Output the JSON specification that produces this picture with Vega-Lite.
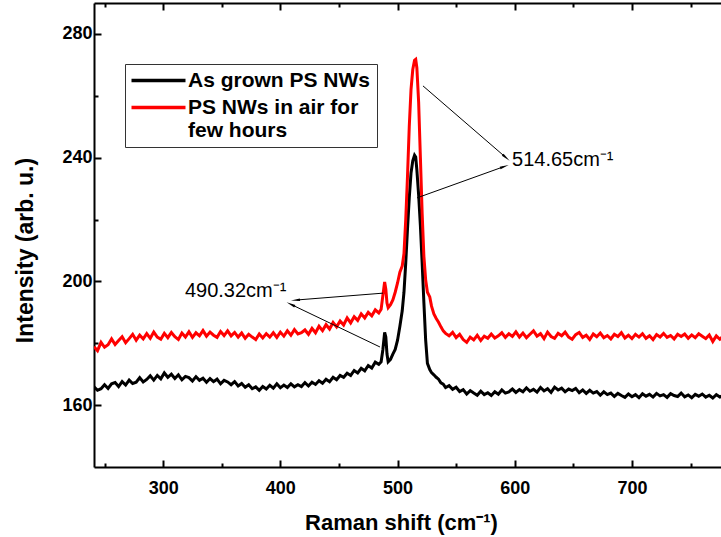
{
  "$schema": "https://vega.github.io/schema/vega-lite/v6.json",
  "width": 627,
  "height": 464,
  "autosize": {"type": "none"},
  "padding": {"left": 94, "top": 3, "right": 0, "bottom": 70},
  "background": "white",
  "config": {"view": {"stroke": null}, "font": "Liberation Sans"},
  "datasets": {
    "spectra": [
      {"x":241,"a":165.9,"b":178.9},{"x":244,"a":164.8,"b":177.6},{"x":247,"a":165.3,"b":180.3},{"x":250,"a":166.6,"b":178.7},
      {"x":253,"a":165.4,"b":179.5},{"x":256,"a":166.9,"b":181.4},{"x":259,"a":167.3,"b":179.6},{"x":262,"a":166.0,"b":180.9},
      {"x":265,"a":167.6,"b":182.1},{"x":268,"a":166.5,"b":180.2},{"x":271,"a":168.1,"b":181.5},{"x":274,"a":167.0,"b":182.9},
      {"x":277,"a":167.4,"b":181.0},{"x":280,"a":168.9,"b":182.6},{"x":283,"a":167.5,"b":181.4},{"x":286,"a":168.3,"b":183.1},
      {"x":289,"a":169.5,"b":181.6},{"x":292,"a":168.1,"b":183.6},{"x":295,"a":169.6,"b":182.0},{"x":298,"a":168.5,"b":181.3},
      {"x":301,"a":170.4,"b":183.2},{"x":304,"a":169.0,"b":181.8},{"x":307,"a":170.0,"b":183.5},{"x":310,"a":168.6,"b":182.1},
      {"x":313,"a":169.8,"b":181.2},{"x":316,"a":168.2,"b":183.3},{"x":319,"a":169.3,"b":182.0},{"x":322,"a":168.9,"b":183.7},
      {"x":325,"a":167.8,"b":181.9},{"x":328,"a":169.2,"b":183.4},{"x":331,"a":168.0,"b":182.4},{"x":334,"a":168.7,"b":184.1},
      {"x":337,"a":167.4,"b":182.3},{"x":340,"a":168.6,"b":183.6},{"x":343,"a":167.6,"b":182.6},{"x":346,"a":168.4,"b":181.9},
      {"x":349,"a":166.9,"b":183.8},{"x":352,"a":168.0,"b":182.5},{"x":355,"a":167.5,"b":184.0},{"x":358,"a":166.6,"b":182.4},
      {"x":361,"a":167.6,"b":183.5},{"x":364,"a":166.2,"b":182.0},{"x":367,"a":167.0,"b":183.3},{"x":370,"a":165.8,"b":181.6},
      {"x":373,"a":166.6,"b":182.9},{"x":376,"a":165.3,"b":182.0},{"x":379,"a":165.9,"b":181.2},{"x":382,"a":164.8,"b":183.0},
      {"x":385,"a":166.0,"b":181.7},{"x":388,"a":165.2,"b":183.1},{"x":391,"a":166.4,"b":182.0},{"x":394,"a":165.5,"b":183.4},
      {"x":397,"a":166.9,"b":181.9},{"x":400,"a":165.6,"b":183.6},{"x":403,"a":166.5,"b":182.3},{"x":406,"a":165.7,"b":184.0},
      {"x":409,"a":166.9,"b":182.6},{"x":412,"a":165.9,"b":184.4},{"x":415,"a":166.6,"b":183.0},{"x":418,"a":166.0,"b":183.4},
      {"x":421,"a":167.3,"b":184.3},{"x":424,"a":166.2,"b":182.9},{"x":427,"a":167.4,"b":184.8},{"x":430,"a":166.7,"b":183.4},
      {"x":433,"a":167.9,"b":185.5},{"x":436,"a":167.1,"b":184.1},{"x":439,"a":168.4,"b":186.0},{"x":442,"a":167.6,"b":184.6},
      {"x":445,"a":169.0,"b":186.7},{"x":448,"a":168.2,"b":185.3},{"x":451,"a":169.6,"b":187.2},{"x":454,"a":169.0,"b":185.9},
      {"x":457,"a":170.3,"b":188.2},{"x":460,"a":169.6,"b":186.6},{"x":463,"a":171.2,"b":188.6},{"x":466,"a":170.4,"b":187.4},
      {"x":469,"a":171.9,"b":189.5},{"x":472,"a":171.1,"b":188.2},{"x":475,"a":172.8,"b":190.0},{"x":478,"a":172.0,"b":188.9},
      {"x":481,"a":173.9,"b":190.8},{"x":484,"a":173.2,"b":189.8},{"x":486,"a":174.0,"b":191.0},{"x":487.5,"a":178.0,"b":195.5},
      {"x":489,"a":183.5,"b":199.8},{"x":490,"a":182.0,"b":197.5},{"x":491,"a":176.5,"b":193.0},{"x":492,"a":174.0,"b":191.5},
      {"x":494,"a":174.8,"b":192.5},{"x":496,"a":176.5,"b":194.0},{"x":498,"a":178.0,"b":196.5},{"x":500,"a":181.0,"b":199.5},
      {"x":502,"a":185.5,"b":203.0},{"x":504,"a":190.5,"b":205.0},{"x":505.5,"a":196.5,"b":209.0},{"x":507,"a":206.0,"b":220.0},
      {"x":508.5,"a":217.0,"b":234.0},{"x":510,"a":227.0,"b":250.0},{"x":511.5,"a":235.0,"b":262.0},{"x":513,"a":239.0,"b":268.5},
      {"x":514.5,"a":240.8,"b":271.5},{"x":515.5,"a":240.2,"b":271.8},{"x":516.5,"a":236.0,"b":269.0},{"x":518,"a":228.0,"b":258.0},
      {"x":519.5,"a":218.0,"b":240.0},{"x":521,"a":206.0,"b":222.0},{"x":522.5,"a":193.0,"b":208.0},{"x":524,"a":181.0,"b":200.5},
      {"x":525.5,"a":173.5,"b":196.5},{"x":527.5,"a":171.5,"b":195.0},{"x":529,"a":170.5,"b":192.0},{"x":531,"a":169.8,"b":189.5},
      {"x":533,"a":169.0,"b":188.0},{"x":535,"a":168.4,"b":186.8},{"x":537,"a":167.2,"b":185.3},{"x":539,"a":166.8,"b":184.0},
      {"x":541,"a":165.7,"b":183.2},{"x":544,"a":166.3,"b":182.4},{"x":547,"a":165.1,"b":183.5},{"x":550,"a":165.8,"b":181.8},
      {"x":553,"a":164.4,"b":182.9},{"x":556,"a":165.0,"b":181.2},{"x":559,"a":163.6,"b":180.3},{"x":562,"a":164.7,"b":182.0},
      {"x":565,"a":163.9,"b":181.1},{"x":568,"a":163.2,"b":182.6},{"x":571,"a":164.5,"b":180.9},{"x":574,"a":163.4,"b":182.3},
      {"x":577,"a":164.0,"b":181.6},{"x":580,"a":163.1,"b":183.0},{"x":583,"a":164.3,"b":181.7},{"x":586,"a":163.5,"b":182.4},
      {"x":589,"a":164.9,"b":183.4},{"x":592,"a":163.9,"b":181.9},{"x":595,"a":164.3,"b":183.1},{"x":598,"a":165.2,"b":182.2},
      {"x":601,"a":164.1,"b":183.7},{"x":604,"a":165.0,"b":182.0},{"x":607,"a":164.3,"b":183.3},{"x":610,"a":165.6,"b":181.8},
      {"x":613,"a":164.5,"b":182.9},{"x":616,"a":165.1,"b":184.0},{"x":619,"a":164.2,"b":182.3},{"x":622,"a":165.7,"b":183.1},
      {"x":625,"a":164.6,"b":181.5},{"x":628,"a":165.3,"b":183.6},{"x":631,"a":164.1,"b":182.2},{"x":634,"a":165.8,"b":181.6},
      {"x":637,"a":164.9,"b":183.2},{"x":640,"a":165.5,"b":182.4},{"x":643,"a":164.3,"b":183.6},{"x":646,"a":165.2,"b":182.0},
      {"x":649,"a":164.7,"b":181.3},{"x":652,"a":165.4,"b":182.8},{"x":655,"a":164.0,"b":183.5},{"x":658,"a":164.9,"b":181.9},
      {"x":661,"a":163.8,"b":182.6},{"x":664,"a":164.8,"b":181.2},{"x":667,"a":163.9,"b":183.0},{"x":670,"a":164.4,"b":182.1},
      {"x":673,"a":163.2,"b":183.3},{"x":676,"a":164.3,"b":181.8},{"x":679,"a":163.4,"b":182.5},{"x":682,"a":163.9,"b":181.4},
      {"x":685,"a":162.8,"b":182.9},{"x":688,"a":163.8,"b":182.2},{"x":691,"a":163.1,"b":183.4},{"x":694,"a":162.5,"b":181.7},
      {"x":697,"a":163.6,"b":182.6},{"x":700,"a":162.7,"b":181.5},{"x":703,"a":163.4,"b":182.9},{"x":706,"a":162.4,"b":182.0},
      {"x":709,"a":163.7,"b":183.1},{"x":712,"a":162.9,"b":181.6},{"x":715,"a":163.5,"b":182.4},{"x":718,"a":162.6,"b":181.2},
      {"x":721,"a":163.8,"b":182.8},{"x":724,"a":163.0,"b":182.0},{"x":727,"a":163.4,"b":183.2},{"x":730,"a":162.5,"b":181.9},
      {"x":733,"a":163.7,"b":182.5},{"x":736,"a":163.1,"b":181.4},{"x":739,"a":162.8,"b":182.9},{"x":742,"a":163.9,"b":182.2},
      {"x":745,"a":162.7,"b":183.0},{"x":748,"a":163.3,"b":181.6},{"x":751,"a":162.4,"b":182.7},{"x":754,"a":163.5,"b":181.8},
      {"x":757,"a":162.9,"b":183.1},{"x":760,"a":163.6,"b":182.3},{"x":763,"a":162.6,"b":181.5},{"x":766,"a":163.2,"b":182.7},
      {"x":769,"a":162.3,"b":180.6},{"x":772,"a":163.4,"b":182.4},{"x":775,"a":162.6,"b":181.3},{"x":777,"a":163.0,"b":182.0}
    ],
    "arrows": [
      {"x1":521.7,"y1":263.2,"x2":591.7,"y2":240.3},
      {"x1":516.6,"y1":227.0,"x2":590.0,"y2":237.0},
      {"x1":487.6,"y1":196.2,"x2":414.2,"y2":194.0},
      {"x1":485.0,"y1":178.8,"x2":410.0,"y2":192.4}
    ],
    "notes": [
      {"x":597.7,"y":239.3,"t":"514.65cm⁻¹"},
      {"x":318.6,"y":196.9,"t":"490.32cm⁻¹"}
    ]
  },
  "layer": [
    {
      "data": {"name": "spectra"},
      "transform": [
        {"fold": ["a", "b"], "as": ["k", "v"]},
        {"calculate": "datum.k == 'a' ? 'As grown PS NWs' : 'PS NWs in air for few hours'", "as": "series"}
      ],
      "mark": {"type": "line", "strokeWidth": 3, "clip": true},
      "encoding": {
        "x": {"field": "x", "type": "quantitative",
          "scale": {"domain": [241, 776], "nice": false, "zero": false},
          "axis": {"orient": "bottom", "values": [300, 400, 500, 600, 700], "ticks": true, "tickSize": {"expr": "-7"}, "tickWidth": 2, "tickColor": "black",
            "domainColor": "black", "domainWidth": 2, "labelFontSize": 18, "labelFontWeight": "bold", "labelColor": "black",
            "labelPadding": 19, "labelFlush": false, "grid": false, "title": "Raman shift (cm⁻¹)", "titleFontSize": 22,
            "titleFontWeight": "bold", "titleColor": "black", "titleBaseline": "middle", "titleX": 307, "titleY": 55}},
        "y": {"field": "v", "type": "quantitative",
          "scale": {"domain": [140, 290], "nice": false, "zero": false},
          "axis": {"orient": "left", "values": [160, 200, 240, 280], "ticks": true, "tickSize": {"expr": "-7"}, "tickWidth": 2, "tickColor": "black",
            "domainColor": "black", "domainWidth": 2, "labelFontSize": 18, "labelFontWeight": "bold", "labelColor": "black",
            "labelPadding": 9, "labelFlush": false, "grid": false, "title": "Intensity (arb. u.)", "titleFontSize": 23,
            "titleFontWeight": "bold", "titleColor": "black", "titleBaseline": "middle", "titleX": -69, "titleY": 247}},
        "color": {"field": "series", "type": "nominal",
          "scale": {"domain": ["As grown PS NWs", "PS NWs in air for few hours"], "range": ["#000000", "#ff0000"]},
          "legend": {"orient": "none", "legendX": 31, "legendY": 61, "title": null, "strokeColor": "#333333", "padding": 6,
            "labelFont": "Liberation Sans", "labelFontSize": 21, "labelFontWeight": "bold", "labelColor": "black", "labelLimit": 400,
            "symbolType": "M-5.4,0H5.4", "symbolSize": 100, "symbolStrokeWidth": 3.5, "symbolOffset": 17, "labelOffset": 19, "rowPadding": 5,
            "labelExpr": "datum.label == 'PS NWs in air for few hours' ? ['PS NWs in air for', 'few hours'] : datum.label"}}
      }
    },
    {
      "data": {"name": "arrows"},
      "mark": {"type": "rule", "strokeWidth": 1, "color": "black"},
      "encoding": {
        "x": {"field": "x1", "type": "quantitative",
          "axis": {"orient": "bottom", "values": [250, 350, 450, 550, 650, 750], "ticks": true, "tickSize": {"expr": "-4"}, "tickWidth": 2, "tickColor": "black",
            "labels": false, "domain": false, "grid": false, "title": null}},
        "y": {"field": "y1", "type": "quantitative",
          "axis": {"orient": "left", "values": [180, 220, 260], "ticks": true, "tickSize": {"expr": "-4"}, "tickWidth": 2, "tickColor": "black",
            "labels": false, "domain": false, "grid": false, "title": null}},
        "x2": {"field": "x2"},
        "y2": {"field": "y2"}
      }
    },
    {
      "data": {"name": "arrows"},
      "transform": [{"calculate": "atan2((datum.x2 - datum.x1) * 1.172, (datum.y2 - datum.y1) * 3.09) * 180 / PI", "as": "ang"}],
      "mark": {"type": "point", "shape": "wedge", "filled": true, "color": "black", "size": 110, "opacity": 1},
      "encoding": {
        "x": {"field": "x2", "type": "quantitative",
          "axis": {"orient": "top", "values": [300, 400, 500, 600, 700], "ticks": true, "tickSize": {"expr": "-7"}, "tickWidth": 2, "tickColor": "black",
            "domainColor": "black", "domainWidth": 2, "labels": false, "grid": false, "title": null}},
        "y": {"field": "y2", "type": "quantitative", "axis": null},
        "angle": {"field": "ang", "type": "quantitative", "scale": null}
      }
    },
    {
      "data": {"name": "notes"},
      "mark": {"type": "text", "align": "left", "baseline": "middle", "fontSize": 20, "font": "Liberation Sans", "color": "black"},
      "encoding": {
        "x": {"field": "x", "type": "quantitative",
          "axis": {"orient": "top", "values": [250, 350, 450, 550, 650, 750], "ticks": true, "tickSize": {"expr": "-4"}, "tickWidth": 2, "tickColor": "black",
            "labels": false, "domain": false, "grid": false, "title": null}},
        "y": {"field": "y", "type": "quantitative", "axis": null},
        "text": {"field": "t"}
      }
    }
  ],
  "resolve": {"axis": {"x": "independent", "y": "independent"}}
}
